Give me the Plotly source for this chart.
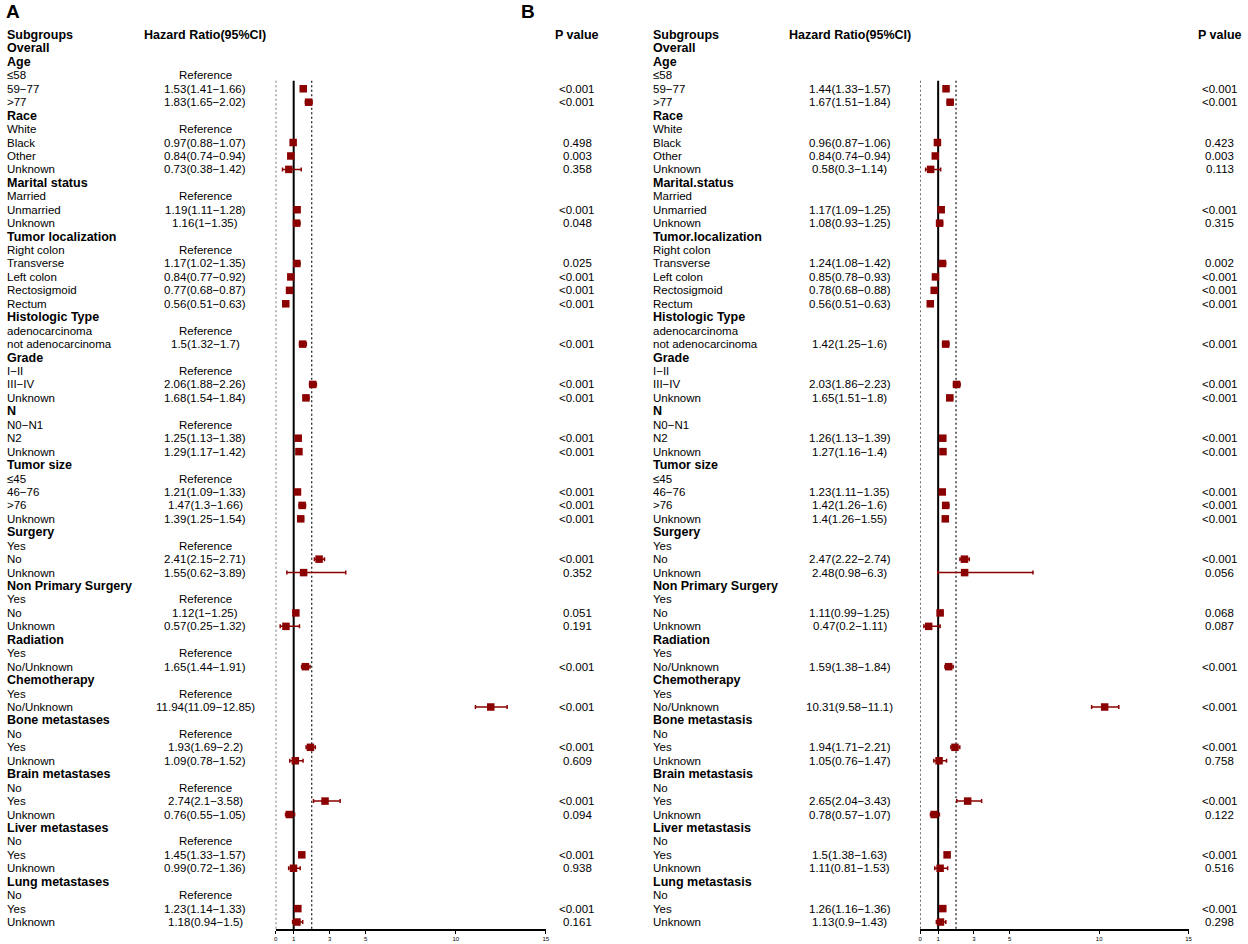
import plotly.graph_objects as go

# ---------------- data ----------------
groups_A = ["Overall", "Age", "Race", "Marital status", "Tumor localization", "Histologic Type",
            "Grade", "N", "Tumor size", "Surgery", "Non Primary Surgery", "Radiation",
            "Chemotherapy", "Bone metastases", "Brain metastases", "Liver metastases", "Lung metastases"]
groups_B = ["Overall", "Age", "Race", "Marital.status", "Tumor.localization", "Histologic Type",
            "Grade", "N", "Tumor size", "Surgery", "Non Primary Surgery", "Radiation",
            "Chemotherapy", "Bone metastasis", "Brain metastasis", "Liver metastasis", "Lung metastasis"]
levels = [[], ["≤58", "59−77", ">77"], ["White", "Black", "Other", "Unknown"],
          ["Married", "Unmarried", "Unknown"],
          ["Right colon", "Transverse", "Left colon", "Rectosigmoid", "Rectum"],
          ["adenocarcinoma", "not adenocarcinoma"], ["I−II", "III−IV", "Unknown"],
          ["N0−N1", "N2", "Unknown"], ["≤45", "46−76", ">76", "Unknown"],
          ["Yes", "No", "Unknown"], ["Yes", "No", "Unknown"], ["Yes", "No/Unknown"],
          ["Yes", "No/Unknown"], ["No", "Yes", "Unknown"], ["No", "Yes", "Unknown"],
          ["No", "Yes", "Unknown"], ["No", "Yes", "Unknown"]]

hr_A = [None, 1.53, 1.83, None, 0.97, 0.84, 0.73, None, 1.19, 1.16, None, 1.17, 0.84, 0.77, 0.56,
        None, 1.5, None, 2.06, 1.68, None, 1.25, 1.29, None, 1.21, 1.47, 1.39, None, 2.41, 1.55,
        None, 1.12, 0.57, None, 1.65, None, 11.94, None, 1.93, 1.09, None, 2.74, 0.76,
        None, 1.45, 0.99, None, 1.23, 1.18]
lo_A = [None, 1.41, 1.65, None, 0.88, 0.74, 0.38, None, 1.11, 1.0, None, 1.02, 0.77, 0.68, 0.51,
        None, 1.32, None, 1.88, 1.54, None, 1.13, 1.17, None, 1.09, 1.3, 1.25, None, 2.15, 0.62,
        None, 1.0, 0.25, None, 1.44, None, 11.09, None, 1.69, 0.78, None, 2.1, 0.55,
        None, 1.33, 0.72, None, 1.14, 0.94]
hi_A = [None, 1.66, 2.02, None, 1.07, 0.94, 1.42, None, 1.28, 1.35, None, 1.35, 0.92, 0.87, 0.63,
        None, 1.7, None, 2.26, 1.84, None, 1.38, 1.42, None, 1.33, 1.66, 1.54, None, 2.71, 3.89,
        None, 1.25, 1.32, None, 1.91, None, 12.85, None, 2.2, 1.52, None, 3.58, 1.05,
        None, 1.57, 1.36, None, 1.33, 1.5]
p_A = ["", "<0.001", "<0.001", "", "0.498", "0.003", "0.358", "", "<0.001", "0.048",
       "", "0.025", "<0.001", "<0.001", "<0.001", "", "<0.001", "", "<0.001", "<0.001",
       "", "<0.001", "<0.001", "", "<0.001", "<0.001", "<0.001", "", "<0.001", "0.352",
       "", "0.051", "0.191", "", "<0.001", "", "<0.001", "", "<0.001", "0.609",
       "", "<0.001", "0.094", "", "<0.001", "0.938", "", "<0.001", "0.161"]

hr_B = [None, 1.44, 1.67, None, 0.96, 0.84, 0.58, None, 1.17, 1.08, None, 1.24, 0.85, 0.78, 0.56,
        None, 1.42, None, 2.03, 1.65, None, 1.26, 1.27, None, 1.23, 1.42, 1.4, None, 2.47, 2.48,
        None, 1.11, 0.47, None, 1.59, None, 10.31, None, 1.94, 1.05, None, 2.65, 0.78,
        None, 1.5, 1.11, None, 1.26, 1.13]
lo_B = [None, 1.33, 1.51, None, 0.87, 0.74, 0.3, None, 1.09, 0.93, None, 1.08, 0.78, 0.68, 0.51,
        None, 1.25, None, 1.86, 1.51, None, 1.13, 1.16, None, 1.11, 1.26, 1.26, None, 2.22, 0.98,
        None, 0.99, 0.2, None, 1.38, None, 9.58, None, 1.71, 0.76, None, 2.04, 0.57,
        None, 1.38, 0.81, None, 1.16, 0.9]
hi_B = [None, 1.57, 1.84, None, 1.06, 0.94, 1.14, None, 1.25, 1.25, None, 1.42, 0.93, 0.88, 0.63,
        None, 1.6, None, 2.23, 1.8, None, 1.39, 1.4, None, 1.35, 1.6, 1.55, None, 2.74, 6.3,
        None, 1.25, 1.11, None, 1.84, None, 11.1, None, 2.21, 1.47, None, 3.43, 1.07,
        None, 1.63, 1.53, None, 1.36, 1.43]
p_B = ["", "<0.001", "<0.001", "", "0.423", "0.003", "0.113", "", "<0.001", "0.315",
       "", "0.002", "<0.001", "<0.001", "<0.001", "", "<0.001", "", "<0.001", "<0.001",
       "", "<0.001", "<0.001", "", "<0.001", "<0.001", "<0.001", "", "<0.001", "0.056",
       "", "0.068", "0.087", "", "<0.001", "", "<0.001", "", "<0.001", "0.758",
       "", "<0.001", "0.122", "", "<0.001", "0.516", "", "<0.001", "0.298"]

x_ticks = [0, 1, 3, 5, 10, 15]
ref_lines = [0, 1, 2]

# ---------------- layout constants ----------------
W, H = 1248, 944
FONT = "Liberation Sans, Arial, sans-serif"
RED = "#8B0000"
ROW0 = 35.0          # pixel y of header row
STEP = 13.44         # pixels per row
AXIS_PX = 929.0      # pixel y of x axis line
Y_TOP = -ROW0 / STEP
Y_BOT = (AXIS_PX - ROW0) / STEP
PAD = 3              # annotation padding for left-anchored text


def px(x):
    return x / W


def build_rows(groups, hr, lo, hi, pv, ref_text):
    rows = []  # (label, bold, hr, lo, hi, hrtext, p)
    k = 0
    for g, levs in zip(groups, levels):
        rows.append((g, True, None, None, None, "", ""))
        for lv in levs:
            h = hr[k]
            if h is None:
                txt = ref_text
            else:
                txt = f"{h:g}({lo[k]:g}−{hi[k]:g})"
            rows.append((lv, False, h, lo[k], hi[k], txt, pv[k]))
            k += 1
    return rows


panels = [
    dict(rows=build_rows(groups_A, hr_A, lo_A, hi_A, p_A, "Reference"), xa="x",
         lab=6 - PAD, hrc=204, pc=578, letter="A", letter_x=5 - PAD,
         dom=(275.0, 546.5)),
    dict(rows=build_rows(groups_B, hr_B, lo_B, hi_B, p_B, ""), xa="x2",
         lab=655 - PAD, hrc=852, pc=1223.5, letter="B", letter_x=522 - PAD,
         dom=(922.7, 1192.3)),
]

fig = go.Figure()
annotations = []
shapes = []
REG = 11.5
BOLD = 12.5

for P in panels:
    rows = P["rows"]
    annotations.append(dict(text="<b>Subgroups</b>", x=px(P["lab"]), xanchor="left", y=0))
    annotations.append(dict(text="<b>Hazard Ratio(95%CI)</b>", x=px(P["hrc"]), xanchor="center", y=0))
    annotations.append(dict(text="<b>P value</b>", x=px(P["pc"]), xanchor="center", y=0))
    xs, ys, ep, em = [], [], [], []
    for i, (lab, bold, h, l, u, txt, pv) in enumerate(rows, start=1):
        if bold:
            annotations.append(dict(text=f"<b>{lab}</b>", x=px(P["lab"]), xanchor="left", y=i))
        else:
            annotations.append(dict(text=lab, x=px(P["lab"]), xanchor="left", y=i, size=REG))
        if txt:
            annotations.append(dict(text=txt, x=px(P["hrc"]), xanchor="center", y=i, size=REG))
        if pv:
            annotations.append(dict(text=pv, x=px(P["pc"]), xanchor="center", y=i, size=REG))
        if h is not None:
            xs.append(h)
            ys.append(i)
            ep.append(u - h)
            em.append(h - l)
    fig.add_trace(go.Scatter(
        x=xs, y=ys, xaxis=P["xa"], yaxis="y", mode="markers",
        marker=dict(symbol="square", size=7.5, color=RED, line=dict(width=0)),
        error_x=dict(type="data", symmetric=False, array=ep, arrayminus=em,
                     color=RED, thickness=1.5, width=2),
        showlegend=False, hoverinfo="skip", cliponaxis=False))
    for v in ref_lines:
        if v == 1:
            line = dict(color="black", width=2, dash="solid")
        else:
            line = dict(color="#222222", width=1.3, dash="2px,2.5px")
        shapes.append(dict(type="line", xref=P["xa"], yref="y", x0=v, x1=v, y0=3.4, y1=Y_BOT,
                           line=line, layer="below"))
    annotations.append(dict(text=f"<b>{P['letter']}</b>", x=px(P["letter_x"]), xanchor="left",
                            yref="paper", y=1 - 11 / H, size=19))

ann_final = []
for a in annotations:
    size = a.pop("size", BOLD)
    d = dict(showarrow=False, xref="paper", yref=a.pop("yref", "y"), yanchor="middle",
             font=dict(family=FONT, size=size, color="black"))
    d.update(a)
    ann_final.append(d)

axis_common = dict(range=[0, 15], tickvals=x_ticks, ticktext=[str(t) for t in x_ticks],
                   showline=True, linecolor="black", linewidth=1.5, ticks="outside",
                   ticklen=3, tickwidth=1.2, tickcolor="black", showgrid=False, zeroline=False,
                   tickfont=dict(family=FONT, size=6, color="black"), anchor="y", fixedrange=True)

fig.update_layout(
    width=W, height=H, margin=dict(l=0, r=0, t=0, b=0),
    paper_bgcolor="white", plot_bgcolor="white",
    xaxis=dict(domain=[px(panels[0]["dom"][0]), px(panels[0]["dom"][1])], **axis_common),
    xaxis2=dict(domain=[px(panels[1]["dom"][0]), px(panels[1]["dom"][1])], **axis_common),
    yaxis=dict(domain=[(H - AXIS_PX) / H, 1], range=[Y_BOT, Y_TOP], visible=False,
               showgrid=False, zeroline=False, fixedrange=True),
    annotations=ann_final, shapes=shapes, showlegend=False,
)

fig.write_html(
    "out.html",
    config={"displayModeBar": False},
    post_script="document.documentElement.style.margin='0';document.body.style.margin='0';"
                "document.body.style.overflow='hidden';",
)
